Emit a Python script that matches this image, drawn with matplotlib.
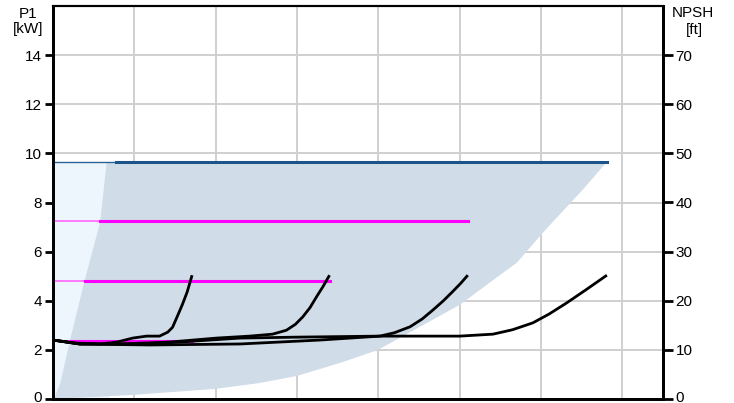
import matplotlib.pyplot as plt
import matplotlib.transforms as mtransforms
import numpy as np

plt.rcParams['font.family'] = ['Liberation Sans', 'DejaVu Sans']

# flow axis in grid units (no labels shown), P1 in kW, NPSH in ft
p1_ticks = [0, 2, 4, 6, 8, 10, 12, 14]
npsh_ticks = [0, 10, 20, 30, 40, 50, 60, 70]

# operating area (kW axis)
area_x = [0.0, 0.02, 0.09, 0.21, 0.39, 0.58, 0.66, 6.81, 6.51, 6.02, 5.70, 5.41,
          5.00, 3.99, 3.53, 3.00, 2.54, 1.99, 0.95, 0.0]
area_y = [0.0, 0.08, 0.65, 2.40, 4.84, 7.20, 9.65, 9.65, 8.51, 6.76, 5.54, 4.84,
          3.83, 1.99, 1.47, 0.94, 0.65, 0.41, 0.16, 0.0]
light_x = [0.0, 0.7]
light_top = 9.65

# P1 lines: level, start of thick part, end
p1_max = (9.65, 0.78, 6.81)
p1_lines = [(7.24, 0.58, 5.10), (4.80, 0.39, 3.40), (2.37, 0.21, 1.71)]

# NPSH curves (ft)
c1_x = [0, 0.27, 0.58, 0.79, 0.98, 1.15, 1.31, 1.41, 1.47, 1.52, 1.59, 1.65, 1.71]
c1_y = [12.0, 11.4, 11.2, 11.6, 12.4, 12.8, 12.8, 13.6, 14.6, 16.5, 19.2, 21.8, 25.2]
c2_x = [0, 0.33, 0.82, 1.44, 2.01, 2.42, 2.70, 2.87, 2.98, 3.07, 3.16, 3.24, 3.32, 3.40]
c2_y = [12.0, 11.2, 11.2, 11.6, 12.4, 12.8, 13.2, 14.0, 15.2, 16.7, 18.6, 20.8, 22.9, 25.2]
c3_x = [0, 0.33, 1.19, 2.30, 3.28, 4.02, 4.20, 4.39, 4.54, 4.67, 4.80, 4.91, 5.01, 5.10]
c3_y = [12.0, 11.2, 11.0, 11.2, 12.0, 12.8, 13.5, 14.7, 16.3, 18.1, 20.0, 21.8, 23.5, 25.2]
c4_x = [0, 0.33, 1.19, 2.30, 3.03, 4.02, 5.00, 5.41, 5.65, 5.90, 6.10, 6.31, 6.55, 6.81]
c4_y = [12.0, 11.2, 11.2, 12.4, 12.6, 12.8, 12.8, 13.2, 14.1, 15.5, 17.3, 19.5, 22.2, 25.2]

fig = plt.figure(figsize=(7.34, 4.03), dpi=100)
ax = fig.add_axes([53/734, 4/403, 610/734, 393/403])
ax2 = ax.twinx()

ax.set_xlim(0, 7.5)
ax.set_ylim(0, 16)
ax2.set_ylim(0, 80)

ax.set_xticks(np.arange(1, 8))
ax.set_yticks(p1_ticks + [16])
ax.set_yticklabels([str(t) for t in p1_ticks] + [''])
ax2.set_yticks(npsh_ticks)
ax.grid(True, color='#cfcfcf', linewidth=1.4)
ax.set_axisbelow(True)
ax.tick_params(axis='x', length=0, labelbottom=False)
ax.tick_params(axis='y', length=6, width=2, labelsize=11, pad=2)
ax2.tick_params(axis='y', length=7, width=2, labelsize=11, pad=2)
ax.get_yticklines()[-2].set_visible(False)

# lift the two "0" labels a little, as in the reference
up = mtransforms.ScaledTranslation(0, 3/100, fig.dpi_scale_trans)
for lab in [ax.get_yticklabels()[0], ax2.get_yticklabels()[0]]:
    lab.set_transform(lab.get_transform() + up)

ax.fill_between(light_x, 0, light_top, color='#eef6fd', zorder=1, linewidth=0)
ax.fill(area_x, area_y, color='#d0dce8', zorder=2, linewidth=0)

lvl, xs, xe = p1_max
ax.plot([0, xs], [lvl, lvl], color='#2a6496', linewidth=1.0, zorder=3)
ax.plot([xs, xe], [lvl, lvl], color='#1c5489', linewidth=2.2, zorder=3)
for lvl, xs, xe in p1_lines:
    ax.plot([0, xs], [lvl, lvl], color='#ff66ff', linewidth=1.2, zorder=3)
    ax.plot([xs, xe], [lvl, lvl], color='#ff00ff', linewidth=2.2, zorder=3)

for cx, cy in [(c1_x, c1_y), (c2_x, c2_y), (c3_x, c3_y), (c4_x, c4_y)]:
    ax2.plot(cx, cy, color='black', linewidth=2, solid_capstyle='butt')

for sp in ['left', 'right', 'bottom']:
    ax.spines[sp].set_linewidth(2)
    ax2.spines[sp].set_linewidth(2)
ax.spines['top'].set_linewidth(1.5)
ax2.spines['top'].set_linewidth(1.5)

fig.text(28/734, 1 - 14/403, 'P1', ha='center', va='center', fontsize=11)
fig.text(28/734, 1 - 29/403, '[kW]', ha='center', va='center', fontsize=11)
fig.text(693/734, 1 - 13/403, 'NPSH', ha='center', va='center', fontsize=11)
fig.text(694/734, 1 - 30/403, '[ft]', ha='center', va='center', fontsize=11)

fig.savefig('out.png', dpi=100)
